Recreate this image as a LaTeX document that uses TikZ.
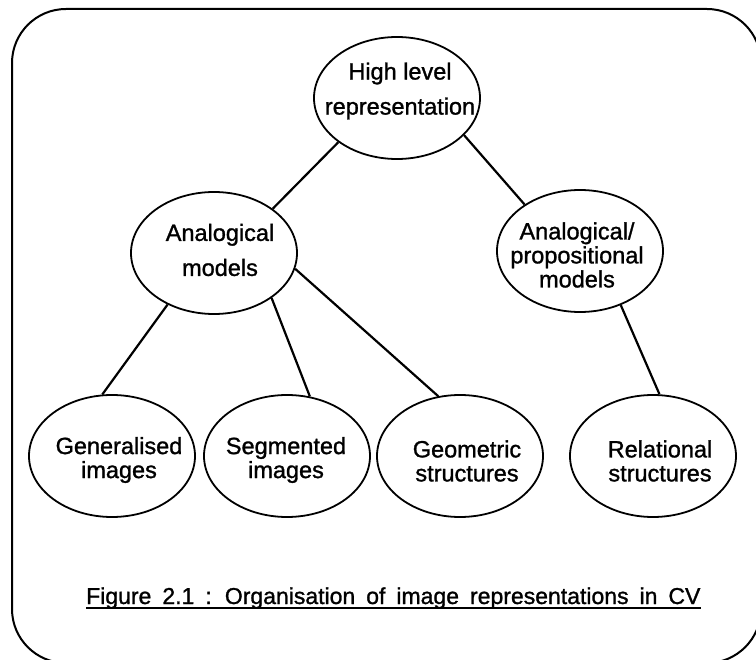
\documentclass[tikz,border=0pt]{standalone}
\usepackage{fontspec}
\setmainfont{Liberation Sans}
\newfontfamily\diagfont{Liberation Sans}[FakeBold=1.2]
\usetikzlibrary{shapes.geometric}

\tikzset{
  ell/.style={draw, ellipse, line width=1.8pt, minimum width=166pt, minimum height=122pt, inner sep=0pt},
  lbl/.style={align=center, inner sep=0pt},
  widelines/.style={lbl, font=\diagfont\fontsize{23.5}{35}\selectfont},
  tightlines/.style={lbl, font=\diagfont\fontsize{23.5}{24}\selectfont},
  link/.style={line width=2.2pt},
  frame/.style={line width=2pt, rounded corners=54pt}
}

\begin{document}
\begin{tikzpicture}[x=1pt, y=-1pt]
  \useasboundingbox (0,0) rectangle (756,660);
  \clip (0,0) rectangle (756,660);

  % outer frame, running past the page on the right and bottom
  \draw[frame] (12,330) -- (12,9) -- (761,9) -- (761,663) -- (12,663) -- cycle;

  % ellipses
  \node[ell] (hl) at (397,98)  {};
  \node[ell] (am) at (214,253) {};
  \node[ell] (ap) at (580,251) {};
  \node[ell] (gi) at (112,456) {};
  \node[ell] (si) at (287,456) {};
  \node[ell] (gs) at (460,456) {};
  \node[ell] (rs) at (653,456) {};

  % labels
  \node[widelines]  (hl-t) at (400,91)  {High level\\representation};
  \node[widelines]  (am-t) at (220,250) {Analogical\\models};
  \node[tightlines] (ap-t) at (577,255) {Analogical/\\propositional\\models};
  \node[tightlines] (gi-t) at (119,460) {Generalised\\images};
  \node[tightlines] (si-t) at (286,460) {Segmented\\images};
  \node[tightlines] (gs-t) at (467,461) {Geometric\\structures};
  \node[tightlines] (rs-t) at (660,461) {Relational\\structures};

  % connectors
  \draw[link] (hl.217) -- (am.37);
  \draw[link] (hl.331) -- (ap.140);
  \draw[link] (am.228) -- (gi.99);
  \draw[link] (am.322) -- (si.69);
  \draw[link] (am.349) -- (gs.110);
  \draw[link] (ap.307) -- (rs.84);

  % caption, with wide word spacing
  \node[inner sep=0pt, anchor=base west, font=\diagfont\fontsize{23}{28}\selectfont] (cap) at (86,604)
    {\spaceskip=11pt\relax Figure 2.1 : Organisation of image representations in CV};
  \draw[line width=2pt] ([yshift=-4pt]cap.base west) -- ([yshift=-4pt]cap.base east);
\end{tikzpicture}
\end{document}
